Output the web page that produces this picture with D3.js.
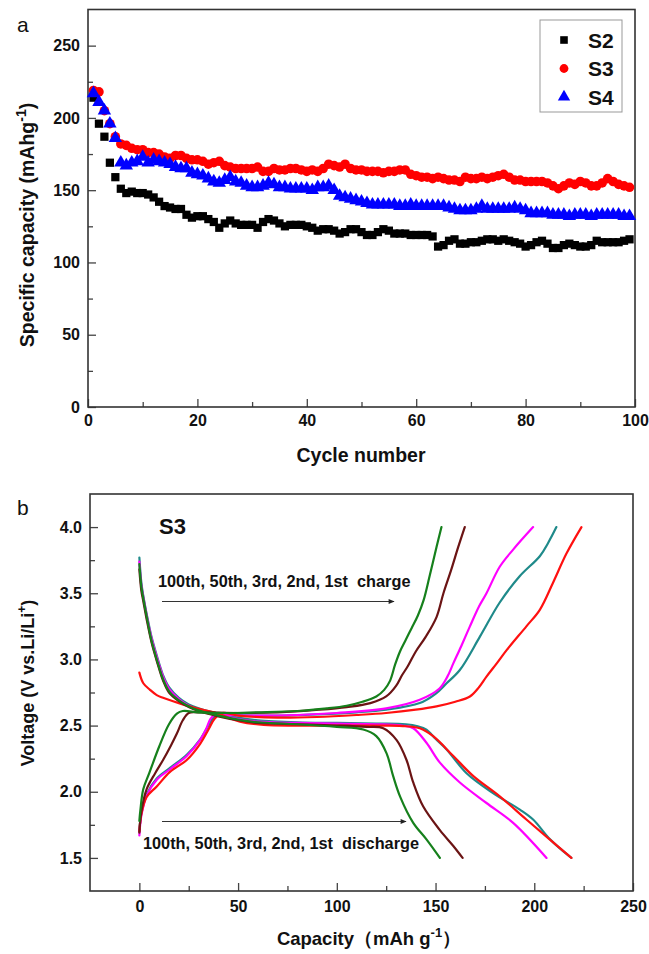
<!DOCTYPE html>
<html>
<head>
<meta charset="utf-8">
<script src="https://d3js.org/d3.v7.min.js"></script>
<style>
  body { margin: 0; background: #fff; }
  svg { display: block; font-family: "Liberation Sans", Arial, sans-serif; }
  .tick text { font-weight: bold; font-size: 16px; fill: #111; }
  .tick line { stroke: #444; stroke-width: 1.3; }
</style>
</head>
<body>
<script>
// ---- panel a : capacity vs cycle ----
var cycles = d3.range(1, 100);
var capS2 = [214,196,187,169,159,151,148,149,148,148,147,145,142,139,138,137,137,133,131,132,
             132,130,128,124,127,129,127,126,126,126,124,128,130,129,127,125,126,126,126,125,
             124,122,123,123,122,120,121,123,123,121,119,119,121,123,122,120,120,120,119,119,
             119,119,118,111,112,115,116,113,113,114,114,115,116,116,115,116,115,114,113,111,
             112,114,115,113,110,110,112,113,112,111,111,112,115,114,114,114,114,115,116];
var capS3 = [219,218,205,196,187,182,181,179,178,178,176,176,175,173,172,174,174,172,171,171,
             170,168,169,170,167,166,165,165,165,165,166,163,163,165,164,164,165,165,164,163,
             164,163,165,168,167,166,168,165,164,164,163,163,163,162,163,163,164,164,161,160,
             159,159,158,159,158,157,157,156,159,158,158,159,158,159,160,161,159,157,157,156,
             156,156,156,155,153,151,153,155,154,156,155,153,153,155,158,156,154,153,152];
var capS4 = [217,211,205,196,186,169,167,169,170,173,169,171,170,169,168,166,165,165,162,161,
             160,158,156,155,157,159,156,155,153,152,152,153,155,154,152,152,151,151,151,151,
             150,152,152,153,150,146,145,144,143,142,141,140,140,140,140,140,139,139,140,139,
             139,139,139,139,139,138,137,136,136,136,137,139,137,137,137,137,137,138,137,136,
             134,134,134,134,133,133,133,132,133,133,133,132,133,133,133,133,133,132,132];
var seriesNames = ["S2", "S3", "S4"];
var seriesColors = ["#000000", "#ff0000", "#0000ff"];

// ---- panel b : voltage profiles of S3, [capacity, voltage] ----
var cycleNames = ["1st", "2nd", "3rd", "50th", "100th"];
var cycleColors = ["#ff1010", "#1f8a8a", "#ff00ff", "#6b1414", "#16801c"];
var charge1st = [[0,1.70],[1,1.83],[3.7,1.96],[8.8,2.04],[15.5,2.15],[24,2.24],[30.7,2.36],[35,2.47],[38,2.55],[42,2.595],
  [50,2.575],[70,2.56],[90,2.565],[110,2.58],[125,2.595],[140,2.62],[150.5,2.645],[160,2.68],[167.4,2.72],[172,2.79],
  [175.8,2.87],[181,2.97],[186,3.07],[196,3.25],[202.8,3.375],[209.5,3.58],[216.3,3.80],[223.9,4.0]];
var charge2nd = [[0,1.70],[1,1.84],[3.7,1.98],[8.8,2.10],[15.5,2.18],[24,2.28],[31,2.40],[35,2.50],[37.5,2.56],[41,2.59],
  [50,2.58],[70,2.575],[90,2.585],[110,2.60],[125,2.62],[142,2.67],[150,2.74],[155.6,2.82],[162.3,2.92],[172.4,3.17],
  [182.5,3.43],[192.7,3.63],[202.8,3.78],[207,3.88],[211.2,4.0]];
var charge3rd = [[0,1.67],[1,1.82],[3.7,1.97],[8.8,2.09],[15.5,2.17],[24,2.27],[30.7,2.39],[34,2.48],[36,2.55],[39,2.59],
  [45,2.58],[60,2.575],[80,2.58],[100,2.595],[125,2.63],[142,2.695],[152,2.78],[156,2.87],[159,2.97],[163,3.10],
  [167.4,3.25],[172,3.40],[175.8,3.50],[182.5,3.70],[189.3,3.83],[199.4,4.0]];
var charge50th = [[0,1.69],[1,1.85],[3.7,2.02],[8,2.14],[12,2.24],[16,2.35],[19,2.44],[22,2.54],[25,2.595],[30,2.60],
  [50,2.595],[70,2.60],[91,2.62],[105,2.64],[117,2.67],[125,2.72],[130,2.80],[133,2.88],[136,2.95],[140,3.06],
  [145,3.17],[150.5,3.32],[154,3.50],[158,3.68],[161.5,3.85],[164.8,4.0]];
var charge100th = [[0,1.78],[0.5,1.86],[2,2.02],[5,2.14],[10,2.34],[15,2.51],[19,2.59],[22,2.61],[30,2.60],[45,2.595],
  [60,2.60],[80,2.61],[95,2.63],[105,2.65],[113,2.68],[120,2.72],[124,2.77],[127,2.84],[129.5,2.96],[132,3.06],
  [135,3.15],[138,3.24],[141,3.33],[144,3.45],[147,3.63],[150.5,3.85],[153,4.0]];
var discharge1st = [[0,2.90],[2,2.82],[5.4,2.77],[8.8,2.73],[12,2.71],[20,2.67],[29,2.63],[39,2.595],[51,2.53],[63,2.505],
  [80,2.50],[100,2.50],[125,2.50],[135,2.495],[142,2.48],[148.8,2.42],[159,2.27],[169,2.12],[182.5,1.965],[196,1.79],
  [207.8,1.64],[218.8,1.5]];
var discharge2nd = [[0,3.77],[1,3.58],[2,3.48],[4,3.32],[6,3.18],[8,3.07],[10,2.97],[12,2.88],[15,2.79],[20,2.71],
  [25,2.66],[30,2.63],[40,2.59],[50,2.56],[60,2.54],[80,2.525],[100,2.52],[120,2.515],[135,2.51],[141,2.495],
  [145.4,2.47],[150,2.40],[155.6,2.32],[165.7,2.14],[179.1,1.99],[192.7,1.865],[199.4,1.79],[208,1.64],[218.8,1.5]];
var discharge3rd = [[0,3.74],[1,3.56],[2,3.47],[4,3.31],[6,3.17],[8,3.06],[10,2.96],[12,2.87],[15,2.78],[20,2.70],
  [25,2.65],[30,2.62],[40,2.58],[50,2.55],[60,2.53],[80,2.52],[100,2.515],[120,2.51],[133,2.50],[138.7,2.48],
  [145.4,2.37],[152.2,2.22],[162.3,2.07],[175.8,1.915],[189.3,1.765],[206.2,1.5]];
var discharge50th = [[0,3.68],[1,3.52],[2,3.44],[4,3.28],[6,3.14],[8,3.03],[10,2.93],[12,2.84],[15,2.75],[20,2.685],
  [25,2.64],[30,2.61],[40,2.57],[50,2.54],[60,2.52],[80,2.51],[100,2.50],[115,2.49],[123.5,2.48],[130.3,2.39],
  [135.3,2.24],[138.7,2.07],[143.7,1.89],[152.2,1.71],[159,1.59],[163.7,1.5]];
var discharge100th = [[0,3.72],[1,3.55],[2,3.46],[4,3.30],[6,3.15],[8,3.04],[10,2.94],[12,2.85],[15,2.76],[20,2.69],
  [25,2.645],[30,2.615],[40,2.575],[50,2.545],[60,2.525],[80,2.51],[100,2.49],[113.4,2.47],[120,2.42],[125.2,2.29],
  [128.5,2.12],[132,1.965],[138.7,1.765],[145.4,1.64],[152.2,1.5]];

var chargeCurves = [charge1st, charge2nd, charge3rd, charge50th, charge100th];
var dischargeCurves = [discharge1st, discharge2nd, discharge3rd, discharge50th, discharge100th];
var drawOrder = [1, 2, 0, 3, 4];   // teal, magenta, red, brown, green on top

function init(){

    var w = 649, h = 954;
    var svg = d3.select("body")
                .append("svg")
                .attr("width", w)
                .attr("height", h);

    // ================= panel a =================
    var xA = d3.scaleLinear().domain([0, 100]).range([88, 635]);
    var yA = d3.scaleLinear().domain([0, 275]).range([407, 9.5]);

    var gA = svg.append("g");

    // minor ticks
    gA.append("g")
        .attr("transform", "translate(0,407)")
        .call(d3.axisBottom(xA).tickValues([10,30,50,70,90]).tickSize(-5).tickFormat(""))
        .call(function(g){ g.select(".domain").remove(); });
    gA.append("g")
        .attr("transform", "translate(88,0)")
        .call(d3.axisLeft(yA).tickValues([25,75,125,175,225]).tickSize(-5).tickFormat(""))
        .call(function(g){ g.select(".domain").remove(); });

    // major ticks
    gA.append("g")
        .attr("transform", "translate(0,407)")
        .call(d3.axisBottom(xA).tickValues(d3.range(0, 101, 20)).tickSize(-8).tickPadding(8))
        .call(function(g){ g.select(".domain").remove(); });
    gA.append("g")
        .attr("transform", "translate(88,0)")
        .call(d3.axisLeft(yA).tickValues(d3.range(0, 251, 50)).tickSize(-8).tickPadding(8))
        .call(function(g){ g.select(".domain").remove(); });

    // frame
    gA.append("rect")
        .attr("x", 88).attr("y", 9.5)
        .attr("width", 635 - 88).attr("height", 407 - 9.5)
        .attr("fill", "none")
        .attr("stroke", "#333")
        .attr("stroke-width", 1.6);

    var capSeries = [capS2, capS3, capS4];
    var symbols = [d3.symbolSquare, d3.symbolCircle, d3.symbolTriangle];
    var symSizes = [68, 72, 78];

    capSeries.forEach(function(vals, k){
        gA.append("g")
            .selectAll("path")
            .data(vals)
            .enter()
            .append("path")
            .attr("d", d3.symbol().type(symbols[k]).size(symSizes[k]))
            .attr("transform", function(d, i){
                return "translate(" + xA(cycles[i]) + "," + yA(d) + ")";
            })
            .attr("fill", seriesColors[k]);
    });

    // legend
    gA.append("rect")
        .attr("x", 540).attr("y", 20)
        .attr("width", 82).attr("height", 92)
        .attr("fill", "#fff")
        .attr("stroke", "#999")
        .attr("stroke-width", 1);
    seriesNames.forEach(function(name, k){
        var ly = 40 + k * 28.5;
        gA.append("path")
            .attr("d", d3.symbol().type(symbols[k]).size(symSizes[k] * 0.85))
            .attr("transform", "translate(564," + ly + ")")
            .attr("fill", seriesColors[k]);
        gA.append("text")
            .attr("x", 588).attr("y", ly + 7.5)
            .attr("font-size", 21).attr("font-weight", "bold")
            .attr("fill", "#111")
            .text(name);
    });

    // labels
    gA.append("text")
        .attr("x", 17).attr("y", 32)
        .attr("font-size", 21)
        .attr("fill", "#111")
        .text("a");

    gA.append("text")
        .attr("x", 361).attr("y", 462)
        .attr("text-anchor", "middle")
        .attr("font-size", 19.5).attr("font-weight", "bold")
        .attr("fill", "#111")
        .text("Cycle number");

    var yLabA = gA.append("text")
        .attr("transform", "translate(34,225) rotate(-90)")
        .attr("text-anchor", "middle")
        .attr("font-size", 19.5).attr("font-weight", "bold")
        .attr("fill", "#111");
    yLabA.append("tspan").text("Specific capacity (mAhg");
    yLabA.append("tspan").attr("dy", -8).attr("font-size", 14).text("-1");
    yLabA.append("tspan").attr("dy", 8).text(")");

    // ================= panel b =================
    var xB = d3.scaleLinear().domain([-25, 250]).range([90, 633]);
    var yB = d3.scaleLinear().domain([1.25, 4.25]).range([891, 494]);

    var gB = svg.append("g");

    gB.append("g")
        .attr("transform", "translate(0,891)")
        .call(d3.axisBottom(xB).tickValues([25,75,125,175,225]).tickSize(-5).tickFormat(""))
        .call(function(g){ g.select(".domain").remove(); });
    gB.append("g")
        .attr("transform", "translate(90,0)")
        .call(d3.axisLeft(yB).tickValues([1.75,2.25,2.75,3.25,3.75]).tickSize(-5).tickFormat(""))
        .call(function(g){ g.select(".domain").remove(); });

    gB.append("g")
        .attr("transform", "translate(0,891)")
        .call(d3.axisBottom(xB).tickValues(d3.range(0, 251, 50)).tickSize(-8).tickPadding(10))
        .call(function(g){ g.select(".domain").remove(); });
    gB.append("g")
        .attr("transform", "translate(90,0)")
        .call(d3.axisLeft(yB).tickValues([1.5,2.0,2.5,3.0,3.5,4.0]).tickSize(-8).tickPadding(8)
              .tickFormat(d3.format(".1f")))
        .call(function(g){ g.select(".domain").remove(); });

    gB.append("rect")
        .attr("x", 90).attr("y", 494)
        .attr("width", 633 - 90).attr("height", 891 - 494)
        .attr("fill", "none")
        .attr("stroke", "#333")
        .attr("stroke-width", 1.6);

    var line = d3.line()
        .x(function(d){ return xB(d[0]); })
        .y(function(d){ return yB(d[1]); })
        .curve(d3.curveCatmullRom.alpha(0.5));

    drawOrder.forEach(function(k){
        [chargeCurves[k], dischargeCurves[k]].forEach(function(pts){
            gB.append("path")
                .datum(pts)
                .attr("d", line)
                .attr("fill", "none")
                .attr("stroke", cycleColors[k])
                .attr("stroke-width", 2.2)
                .attr("stroke-linejoin", "round")
                .attr("stroke-linecap", "round");
        });
    });

    // arrows + annotations
    svg.append("defs")
        .append("marker")
        .attr("id", "arrow")
        .attr("viewBox", "0 0 10 10")
        .attr("refX", 9).attr("refY", 5)
        .attr("markerWidth", 10).attr("markerHeight", 6)
        .attr("markerUnits", "userSpaceOnUse")
        .attr("orient", "auto")
        .append("path")
        .attr("d", "M0,1 L10,5 L0,9 Z")
        .attr("fill", "#222");

    gB.append("line")
        .attr("x1", 162).attr("y1", 601.5)
        .attr("x2", 394).attr("y2", 601.5)
        .attr("stroke", "#333").attr("stroke-width", 1)
        .attr("marker-end", "url(#arrow)");
    gB.append("text")
        .attr("x", 158).attr("y", 587)
        .attr("font-size", 16.3).attr("font-weight", "bold")
        .attr("fill", "#111")
        .attr("xml:space", "preserve")
        .text("100th, 50th, 3rd, 2nd, 1st  charge");

    gB.append("line")
        .attr("x1", 162).attr("y1", 821.5)
        .attr("x2", 406).attr("y2", 821.5)
        .attr("stroke", "#333").attr("stroke-width", 1)
        .attr("marker-end", "url(#arrow)");
    gB.append("text")
        .attr("x", 143).attr("y", 849)
        .attr("font-size", 16.3).attr("font-weight", "bold")
        .attr("fill", "#111")
        .attr("xml:space", "preserve")
        .text("100th, 50th, 3rd, 2nd, 1st  discharge");

    gB.append("text")
        .attr("x", 159).attr("y", 534)
        .attr("font-size", 22).attr("font-weight", "bold")
        .attr("fill", "#111")
        .text("S3");

    gB.append("text")
        .attr("x", 17).attr("y", 515)
        .attr("font-size", 21)
        .attr("fill", "#111")
        .text("b");

    var xLabB = gB.append("text")
        .attr("x", 369).attr("y", 945)
        .attr("text-anchor", "middle")
        .attr("font-size", 18.5).attr("font-weight", "bold")
        .attr("fill", "#111");
    xLabB.append("tspan").text("Capacity\uFF08mAh g");
    xLabB.append("tspan").attr("dy", -8).attr("font-size", 13).text("-1");
    xLabB.append("tspan").attr("dy", 8).text("\uFF09");

    var yLabB = gB.append("text")
        .attr("transform", "translate(34,683) rotate(-90)")
        .attr("text-anchor", "middle")
        .attr("font-size", 18).attr("font-weight", "bold")
        .attr("fill", "#111");
    yLabB.append("tspan").text("Voltage (V vs.Li/Li");
    yLabB.append("tspan").attr("dy", -8).attr("font-size", 12).text("+");
    yLabB.append("tspan").attr("dy", 8).text(")");
}
window.onload = init;
</script>
</body>
</html>
